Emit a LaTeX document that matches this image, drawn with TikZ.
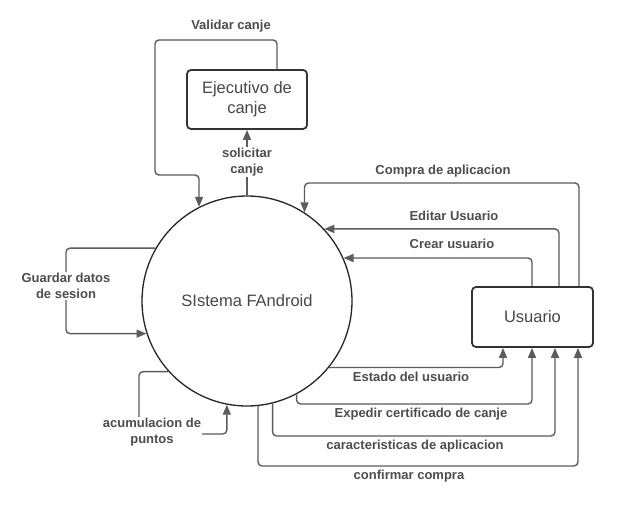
\documentclass[tikz,border=0pt]{standalone}
\usepackage{fontspec}
\setmainfont{Liberation Sans}
\usetikzlibrary{arrows.meta}
\definecolor{linec}{HTML}{5C5C5C}
\definecolor{labc}{HTML}{4D4D4D}
\definecolor{boxc}{HTML}{333333}
\definecolor{txtc}{HTML}{474747}
\tikzset{
  flow/.style={draw=linec, line width=1.4pt, rounded corners=4pt,
    -{Triangle[length=10pt,width=8pt]}},
  plain/.style={draw=linec, line width=1.4pt, rounded corners=4pt},
  lab/.style={font=\fontsize{13}{16}\selectfont\bfseries, text=labc, align=center, inner sep=1pt},
  labw/.style={lab, fill=white},
  entity/.style={draw=boxc, line width=1.8pt, rounded corners=4pt, fill=white,
    font=\fontsize{16.5}{20}\selectfont, text=txtc, align=center},
}
\begin{document}
\begin{tikzpicture}[x=1pt,y=-1pt]
\useasboundingbox[fill=white] (0,0) rectangle (627,508);

% main process
\node[circle, draw=black!85, line width=1.3pt, minimum size=210pt, inner sep=0pt,
      font=\fontsize{16.5}{20}\selectfont, text=txtc] (sys) at (247,301) {SIstema FAndroid};

% entities
\node[entity, minimum width=120pt, minimum height=59pt] (ejec) at (247,99.5) {Ejecutivo de\\canje};
\node[entity, minimum width=121pt, minimum height=60pt] (usr) at (532.5,317) {Usuario};

% coordinates
\coordinate (v1) at (277,40);
\coordinate (v2) at (155,175);
\coordinate (g1) at (66,290);
\coordinate (a1) at (139,434);
\coordinate (t1) at (532,257);
\coordinate (t2) at (559,229);
\coordinate (t3) at (579,183);
\coordinate (b1) at (503,367);
\coordinate (b2) at (532,404);
\coordinate (b3) at (555,436);
\coordinate (b4) at (578,466);

% Validar canje
\draw[flow] (ejec.north -| v1) -- (v1) -| (v2) -| (sys.117.2);
\node[lab] (lvalidar) at (231,26) {Validar canje};

% solicitar canje
\draw[flow] (sys.north) -- (ejec.south);
\node[labw] (lsolicitar) at (247,162) {solicitar\\canje};

% Guardar datos de sesion
\draw[flow] (sys.150.9) -| (g1) |- (sys.198.3);
\node[labw] (lguardar) at (66,286) {Guardar datos\\de sesion};

% acumulacion de puntos
\draw[flow] (sys.222.5) -| (a1) -| (sys.259.6);
\node[labw] (lacum) at (152,432) {acumulacion de\\puntos};

% Usuario -> Sistema
\draw[flow] (t3 |- usr.north) -- (t3) -| (sys.57.1);
\node[lab] (lcompra) at (443,171) {Compra de aplicacion};
\draw[flow] (t2 |- usr.north) |- (sys.43.3);
\node[lab] (leditar) at (454,216) {Editar Usuario};
\draw[flow] (t1 |- usr.north) |- (sys.24.8);
\node[lab] (lcrear) at (452,244) {Crear usuario};

% Sistema -> Usuario
\draw[flow] (sys.321) -| (usr.south -| b1);
\node[lab] (lestado) at (411,377) {Estado del usuario};
\draw[flow] (sys.298.4) |- (b2) -- (usr.south -| b2);
\node[lab] (lexpedir) at (421,414) {Expedir certificado de canje};
\draw[flow] (sys.284.3) |- (b3) -- (usr.south -| b3);
\node[lab] (lcaract) at (415,446) {caracteristicas de aplicacion};
\draw[flow] (sys.276) |- (b4) -- (usr.south -| b4);
\node[lab] (lconfirmar) at (409,476) {confirmar compra};
\end{tikzpicture}
\end{document}
